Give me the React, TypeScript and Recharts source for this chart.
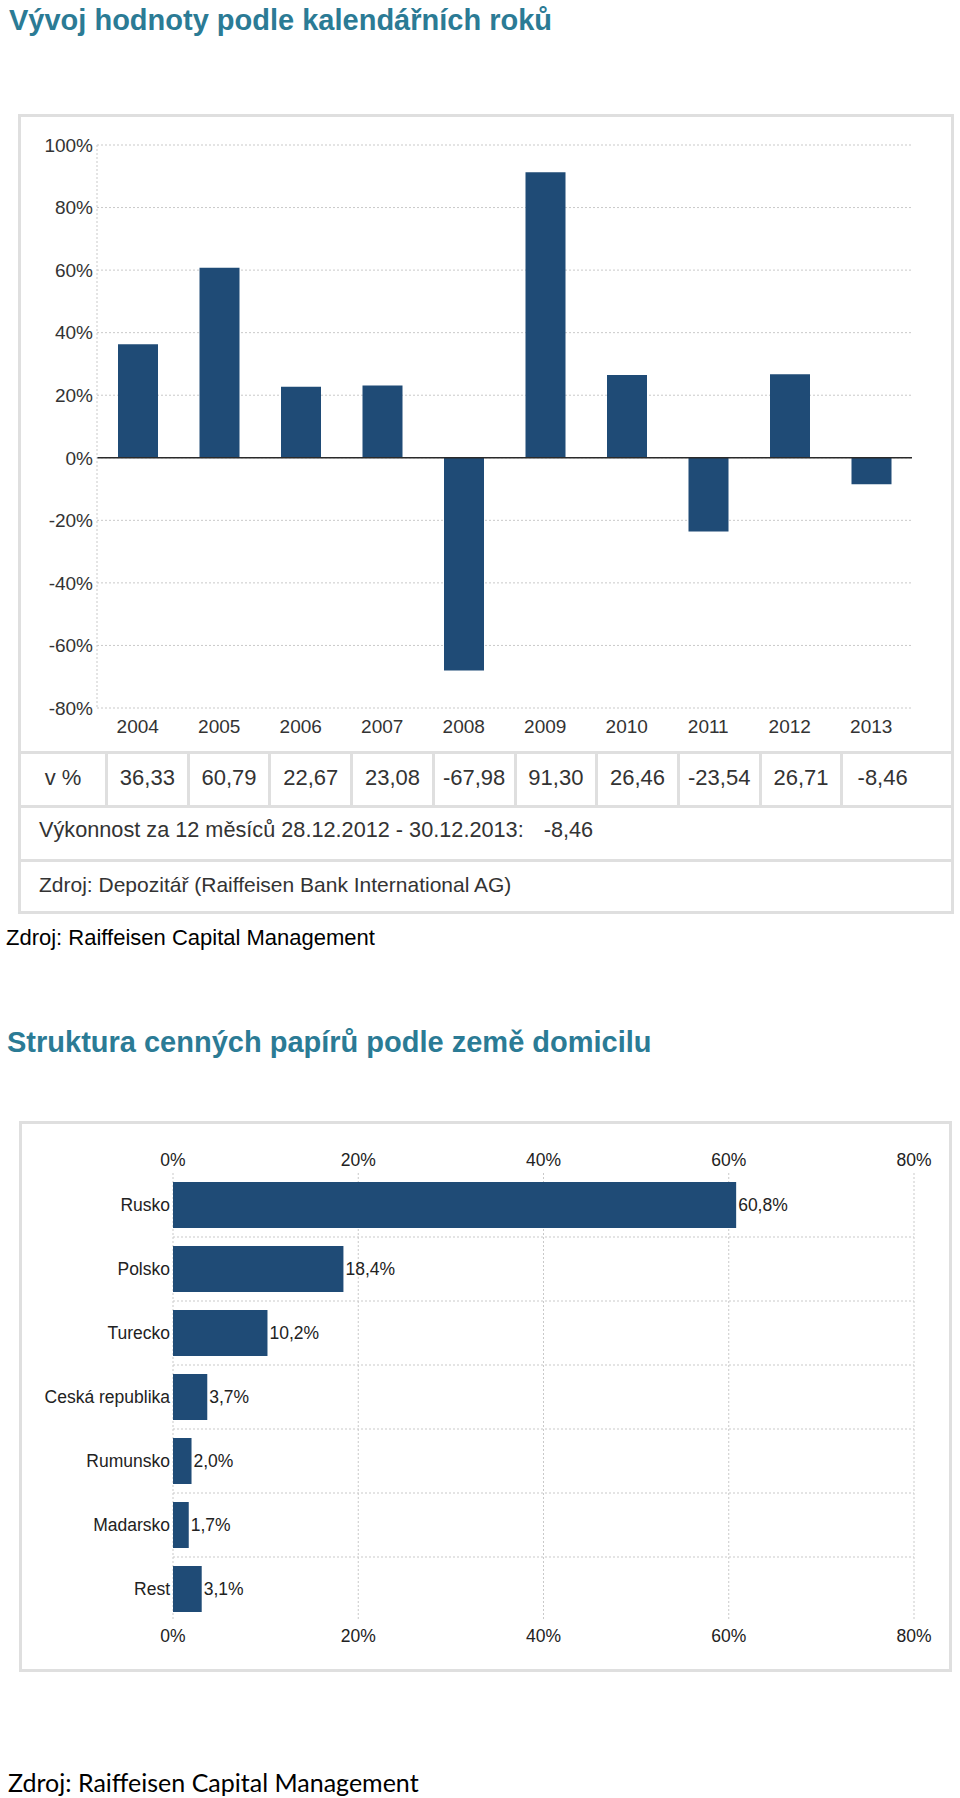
import React from "react";
import { BarChart, ComposedChart, Bar, Line, XAxis, YAxis, CartesianGrid, ReferenceLine, LabelList } from "recharts";

const years = ["2004", "2005", "2006", "2007", "2008", "2009", "2010", "2011", "2012", "2013"];
const yearReturns = [36.33, 60.79, 22.67, 23.08, -67.98, 91.3, 26.46, -23.54, 26.71, -8.46];
const returnTicks = [-80, -60, -40, -20, 0, 20, 40, 60, 80, 100];

const countries = ["Rusko", "Polsko", "Turecko", "Ceská republika", "Rumunsko", "Madarsko", "Rest"];
const countryShares = [60.8, 18.4, 10.2, 3.7, 2.0, 1.7, 3.1];
const shareTicks = [0, 20, 40, 60, 80];

const performanceText = "Výkonnost za 12 měsíců 28.12.2012 - 30.12.2013:";
const performanceValue = -8.46;
const depositaryText = "Zdroj: Depozitář (Raiffeisen Bank International AG)";
const sourceText = "Zdroj: Raiffeisen Capital Management";

const BAR = "#1f4b76";
const TITLE = "#2b7b95";
const GRID = "#c9c9c9";
const BORDER = "#dfdfdf";
const ARIAL = "'Liberation Sans', Arial, sans-serif";

const czNum = (v: number, d: number) => v.toFixed(d).replace(".", ",");

const yearData = years.map((year, i) => ({ year, value: yearReturns[i] }));
const countryData = countries.map((name, i) => ({ name, value: countryShares[i] }));

const box = (left: number, top: number, width: number, height: number): React.CSSProperties => ({
  position: "absolute",
  left,
  top,
  width,
  height,
});

// text line whose caps are centred on cy
const TextLine = ({ left, cy, size, children, style }: any) => (
  <div
    style={{
      ...box(left, cy - 20, 900, 40),
      lineHeight: "40px",
      fontSize: size,
      fontFamily: ARIAL,
      whiteSpace: "nowrap",
      ...style,
    }}
  >
    {children}
  </div>
);

function ReturnsChart() {
  return (
    <BarChart
      width={936}
      height={638}
      data={yearData}
      margin={{ top: 31, right: 42, left: 0, bottom: 0 }}
    >
      <CartesianGrid vertical={false} stroke={GRID} strokeDasharray="2 2" />
      <XAxis
        dataKey="year"
        height={44}
        axisLine={false}
        tickLine={false}
        tickSize={0}
        tickMargin={12}
        interval={0}
        tick={{ fill: "#333", fontSize: 19, fontFamily: ARIAL }}
      />
      <YAxis
        width={79}
        domain={[-80, 100]}
        ticks={returnTicks}
        interval={0}
        axisLine={{ stroke: GRID, strokeDasharray: "2 2" }}
        tickLine={false}
        tickSize={0}
        tickMargin={4}
        tickFormatter={(v) => `${v}%`}
        tick={{ fill: "#333", fontSize: 19, fontFamily: ARIAL }}
      />
      <ReferenceLine y={0} stroke="#2a2a2a" strokeWidth={1.5} />
      <Bar dataKey="value" fill={BAR} barSize={40} isAnimationActive={false} />
    </BarChart>
  );
}

function CountryChart() {
  const tickStyle = { fill: "#222", fontSize: 17.5, fontFamily: ARIAL };
  return (
    <ComposedChart
      layout="vertical"
      width={931}
      height={550}
      data={countryData}
      margin={{ top: 0, right: 37, left: 0, bottom: 0 }}
    >
      <CartesianGrid
        xAxisId="bottom"
        stroke={GRID}
        strokeDasharray="2 2"
        horizontalCoordinatesGenerator={({ offset }: any) =>
          countries.slice(1).map((_, i) => offset.top + ((i + 1) * offset.height) / countries.length)
        }
      />
      <XAxis
        xAxisId="top"
        orientation="top"
        type="number"
        domain={[0, 80]}
        ticks={shareTicks}
        height={51}
        axisLine={false}
        tickLine={false}
        tickSize={0}
        tickMargin={7.5}
        tickFormatter={(v) => `${v}%`}
        tick={tickStyle}
      />
      <XAxis
        xAxisId="bottom"
        orientation="bottom"
        type="number"
        domain={[0, 80]}
        ticks={shareTicks}
        height={51}
        axisLine={false}
        tickLine={false}
        tickSize={0}
        tickMargin={9}
        tickFormatter={(v) => `${v}%`}
        tick={tickStyle}
      />
      <YAxis
        type="category"
        dataKey="name"
        width={153}
        axisLine={false}
        tickLine={false}
        tickSize={0}
        tickMargin={3}
        interval={0}
        tick={tickStyle}
      />
      <Bar dataKey="value" xAxisId="bottom" fill={BAR} barSize={46} isAnimationActive={false}>
        <LabelList
          dataKey="value"
          position="right"
          offset={2}
          formatter={(v: any) => `${czNum(Number(v), 1)}%`}
          style={tickStyle}
        />
      </Bar>
      {/* invisible series so the top axis gets drawn */}
      <Line
        dataKey="value"
        xAxisId="top"
        stroke="none"
        dot={false}
        activeDot={false}
        legendType="none"
        isAnimationActive={false}
      />
    </ComposedChart>
  );
}

export default function App() {
  const colStart = 108;
  const colStep = 81.7;
  return (
    <div style={{ ...box(0, 0, 960, 1798), background: "#fff", overflow: "hidden" }}>
      <TextLine left={9} cy={20} size={29} style={{ fontWeight: "bold", color: TITLE }}>
        Vývoj hodnoty podle kalendářních roků
      </TextLine>

      {/* upper panel */}
      <div style={{ ...box(18, 114, 936, 800), border: `3px solid ${BORDER}`, boxSizing: "border-box" }} />
      <div style={box(18, 114, 936, 638)}>
        <ReturnsChart />
      </div>
      <div style={{ ...box(18, 751, 936, 3), background: BORDER }} />
      <div style={{ ...box(18, 805, 936, 3), background: BORDER }} />
      <div style={{ ...box(18, 859, 936, 3), background: BORDER }} />
      {years.map((y, i) => (
        <div key={`sep-${y}`} style={{ ...box(colStart - 3 + i * colStep, 754, 3, 51), background: BORDER }} />
      ))}
      <div
        style={{
          ...box(21, 754, colStart - 24, 51),
          lineHeight: "48px",
          textAlign: "center",
          fontSize: 22,
          fontFamily: ARIAL,
          color: "#333",
        }}
      >
        v %
      </div>
      {yearReturns.map((v, i) => (
        <div
          key={`val-${years[i]}`}
          style={{
            ...box(colStart + i * colStep, 754, colStep - 3, 51),
            lineHeight: "48px",
            textAlign: "center",
            fontSize: 22,
            fontFamily: ARIAL,
            color: "#333",
            whiteSpace: "nowrap",
          }}
        >
          {czNum(v, 2)}
        </div>
      ))}
      <TextLine left={39} cy={830} size={21.7} style={{ color: "#333" }}>
        {performanceText}
        <span style={{ marginLeft: 20 }}>{czNum(performanceValue, 2)}</span>
      </TextLine>
      <TextLine left={39} cy={885} size={21} style={{ color: "#333" }}>
        {depositaryText}
      </TextLine>

      <TextLine left={6} cy={938} size={22} style={{ color: "#000" }}>
        {sourceText}
      </TextLine>

      <TextLine left={7} cy={1042} size={29} style={{ fontWeight: "bold", color: TITLE }}>
        Struktura cenných papírů podle země domicilu
      </TextLine>

      {/* lower panel */}
      <div style={{ ...box(19, 1121, 933, 551), border: `3px solid ${BORDER}`, boxSizing: "border-box" }} />
      <div style={box(20, 1122, 931, 550)}>
        <CountryChart />
      </div>

      <TextLine left={8} cy={1782} size={25} style={{ color: "#000", fontFamily: "Lato, 'Open Sans', sans-serif" }}>
        {sourceText}
      </TextLine>
    </div>
  );
}
